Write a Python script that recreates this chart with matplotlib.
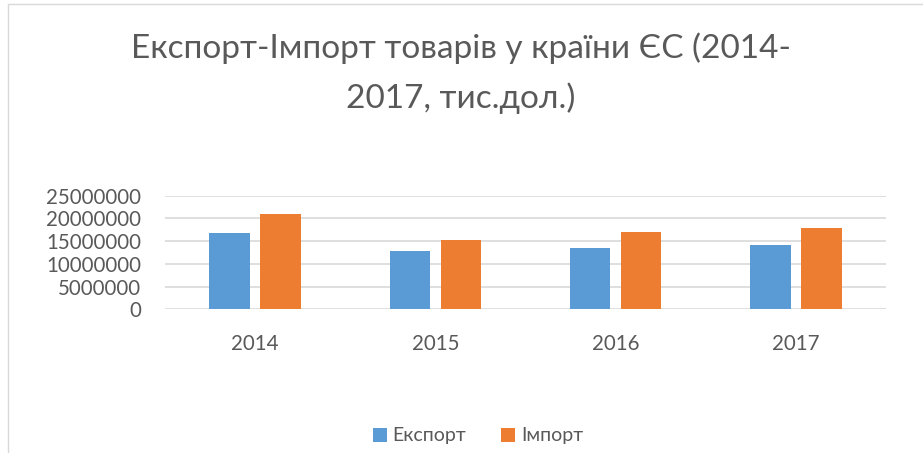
import matplotlib.pyplot as plt
import numpy as np
from matplotlib.patches import Rectangle

years = ["2014", "2015", "2016", "2017"]
export = [16900000, 12900000, 13400000, 14150000]
imports = [20900000, 15200000, 17000000, 17900000]
yticks = [0, 5000000, 10000000, 15000000, 20000000, 25000000]

plt.rcParams['font.family'] = ['Lato', 'DejaVu Sans']
grey = '#595959'

fig = plt.figure(figsize=(9.23, 4.53), dpi=100)

# chart frame
fig.patches.append(Rectangle((8 / 923, -0.1), 1.1, (453 - 4) / 453 + 0.1,
                             transform=fig.transFigure, fill=False,
                             edgecolor='#D9D9D9', linewidth=1.0))

ax = fig.add_axes([165 / 923, 1 - 309.3 / 453, (886 - 165) / 923, (309.3 - 195.7) / 453])

x = np.arange(len(years))
w = 0.226
gap = 0.057
ax.bar(x - (w + gap) / 2, export, w, color='#5B9BD5', label='Експорт', zorder=3)
ax.bar(x + (w + gap) / 2, imports, w, color='#ED7D31', label='Імпорт', zorder=3)

ax.set_xlim(-0.5, 3.5)
ax.set_ylim(0, 25000000)
ax.set_yticks(yticks)
ax.set_yticklabels([str(v) for v in yticks])
ax.set_xticks(x)
ax.set_xticklabels(years)
ax.tick_params(axis='both', length=0, labelsize=14.8, colors=grey)
ax.tick_params(axis='y', pad=17)
ax.tick_params(axis='x', pad=18)
ax.grid(axis='y', color='#D9D9D9', linewidth=1.2, zorder=0)
for s in ax.spines.values():
    s.set_visible(False)

fig.text(461 / 923, 1 - 48 / 453, 'Експорт-Імпорт товарів у країни ЄС (2014-',
         ha='center', va='center', fontsize=24, color=grey)
fig.text(461 / 923, 1 - 98 / 453, '2017, тис.дол.)',
         ha='center', va='center', fontsize=24, color=grey)

fig.legend(loc='center', bbox_to_anchor=(478 / 923, 1 - 436 / 453), ncol=2,
           frameon=False, fontsize=14, handlelength=0.7, handleheight=0.7,
           handletextpad=0.3, columnspacing=1.8, labelcolor=grey)

fig.savefig('out.png', dpi=100)
